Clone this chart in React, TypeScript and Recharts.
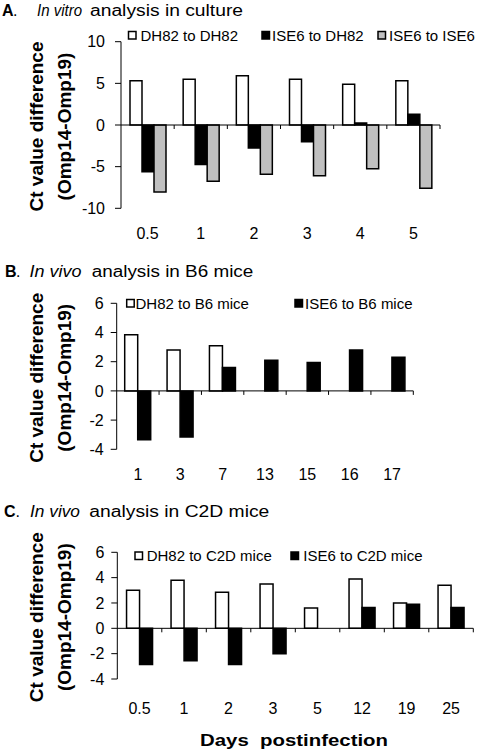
import React from 'react';
import { BarChart, Bar, XAxis, YAxis, ReferenceLine } from 'recharts';

// panel A - in vitro
const daysA = ['0.5', '1', '2', '3', '4', '5'];
const dh82ToDh82 = [5.3, 5.5, 5.9, 5.5, 4.9, 5.3];
const ise6ToDh82 = [-5.6, -4.75, -2.75, -2.0, 0.25, 1.3];
const ise6ToIse6 = [-8.05, -6.75, -5.9, -6.1, -5.25, -7.6];
const ticksA = [-10, -5, 0, 5, 10];

// panel B - B6 mice
const daysB = ['1', '3', '7', '13', '15', '16', '17'];
const dh82ToB6 = [3.85, 2.8, 3.1, null, null, null, null];
const ise6ToB6 = [-3.35, -3.15, 1.6, 2.1, 1.95, 2.8, 2.3];
const ticksB = [-4, -2, 0, 2, 4, 6];

// panel C - C2D mice
const daysC = ['0.5', '1', '2', '3', '5', '12', '19', '25'];
const dh82ToC2D = [3.0, 3.8, 2.85, 3.5, 1.6, 3.9, 2.0, 3.4];
const ise6ToC2D = [-2.85, -2.55, -2.85, -2.0, null, 1.65, 1.9, 1.65];
const ticksC = [-4, -2, 0, 2, 4, 6];

const FONT = '"Liberation Sans", Arial, Helvetica, sans-serif';
const WHITE = '#ffffff';
const BLACK = '#000000';
const GRAY = '#c0c0c0';

type Series = { name: string; values: (number | null)[]; fill: string };

const buildRows = (days: string[], series: Series[]) =>
    days.map((d, i) => {
        const row: Record<string, any> = { day: d };
        series.forEach((s, j) => {
            row['s' + j] = s.values[i];
        });
        return row;
    });

// zero line with small tick marks at the category boundaries
const zeroAxis = (n: number) => (props: any) => {
    const { x1, x2, y1 } = props;
    const step = (x2 - x1) / n;
    return (
        <g>
            <line x1={x1} x2={x2} y1={y1} y2={y1} stroke={BLACK} strokeWidth={1} />
            {Array.from({ length: n }, (_, i) => (
                <line
                    key={i}
                    x1={x1 + step * (i + 1)}
                    x2={x1 + step * (i + 1)}
                    y1={y1}
                    y2={y1 + 4}
                    stroke={BLACK}
                    strokeWidth={1}
                />
            ))}
        </g>
    );
};

const yLabel = (props: any) => {
    const vb = props.viewBox || {};
    const cy = (vb.y ?? 0) + (vb.height ?? 0) / 2 + 1.5;
    return (
        <g fontFamily={FONT} fontSize={19} fontWeight="bold" fill={BLACK}>
            <text transform={`translate(42.5,${cy}) rotate(-90)`} textAnchor="middle">
                Ct value difference
            </text>
            <text transform={`translate(70.5,${cy}) rotate(-90)`} textAnchor="middle">
                (Omp14-Omp19)
            </text>
        </g>
    );
};

interface PanelProps {
    top: number;
    height: number;
    margin: { top: number; right: number; bottom: number; left: number };
    yWidth: number;
    domain: [number, number];
    ticks: number[];
    days: string[];
    series: Series[];
    gap: number;
    yTickSize: number;
    yTickMargin: number;
    xTickMargin: number;
}

const Panel: React.FC<PanelProps> = (p) => {
    const rows = buildRows(p.days, p.series);
    return (
        <div style={{ position: 'absolute', left: 0, top: p.top }}>
            <BarChart
                width={480}
                height={p.height}
                data={rows}
                margin={p.margin}
                barCategoryGap={p.gap}
                barGap={0}
            >
                <XAxis
                    dataKey="day"
                    axisLine={false}
                    tickLine={false}
                    tickSize={0}
                    tickMargin={p.xTickMargin}
                    height={30}
                    interval={0}
                    tick={{ fontSize: 16, fill: BLACK, fontFamily: FONT }}
                />
                <YAxis
                    width={p.yWidth}
                    domain={p.domain}
                    ticks={p.ticks}
                    interval={0}
                    allowDataOverflow
                    axisLine={{ stroke: BLACK, strokeWidth: 1 }}
                    tickLine={{ stroke: BLACK, strokeWidth: 1 }}
                    tickSize={p.yTickSize}
                    tickMargin={p.yTickMargin}
                    tick={{ fontSize: 16, fill: BLACK, fontFamily: FONT }}
                    label={{ content: yLabel }}
                />
                {p.series.map((s, j) => (
                    <Bar
                        key={s.name}
                        dataKey={'s' + j}
                        name={s.name}
                        fill={s.fill}
                        stroke={BLACK}
                        strokeWidth={1.5}
                        isAnimationActive={false}
                    />
                ))}
                <ReferenceLine y={0} shape={zeroAxis(p.days.length)} />
            </BarChart>
        </div>
    );
};

const LegendItem = ({ x, tx, y, fill, label }: { x: number; tx: number; y: number; fill: string; label: string }) => (
    <g>
        <rect x={x} y={y - 4} width={7.5} height={7.5} fill={fill} stroke={BLACK} strokeWidth={1.5} />
        <text x={tx} y={y + 5.3} fontSize={15} fontFamily={FONT} fill={BLACK}>
            {label}
        </text>
    </g>
);

const seriesA: Series[] = [
    { name: 'DH82 to DH82', values: dh82ToDh82, fill: WHITE },
    { name: 'ISE6 to DH82', values: ise6ToDh82, fill: BLACK },
    { name: 'ISE6 to ISE6', values: ise6ToIse6, fill: GRAY },
];
const seriesB: Series[] = [
    { name: 'DH82 to B6 mice', values: dh82ToB6, fill: WHITE },
    { name: 'ISE6 to B6 mice', values: ise6ToB6, fill: BLACK },
];
const seriesC: Series[] = [
    { name: 'DH82 to C2D mice', values: dh82ToC2D, fill: WHITE },
    { name: 'ISE6 to C2D mice', values: ise6ToC2D, fill: BLACK },
];

export default function App() {
    return (
        <div style={{ position: 'absolute', left: 0, top: 0, width: 480, height: 754, background: '#fff', fontFamily: FONT }}>
            <Panel
                top={0}
                height={250}
                margin={{ top: 41.7, right: 40, bottom: 11.7, left: 0 }}
                yWidth={121}
                domain={[-10, 10]}
                ticks={ticksA}
                days={daysA}
                series={seriesA}
                gap={9}
                yTickSize={6}
                yTickMargin={10}
                xTickMargin={19}
            />
            <Panel
                top={250}
                height={250}
                margin={{ top: 53.3, right: 66.7, bottom: 20.7, left: 0 }}
                yWidth={116.7}
                domain={[-4, 6]}
                ticks={ticksB}
                days={daysB}
                series={seriesB}
                gap={8}
                yTickSize={6}
                yTickMargin={7}
                xTickMargin={19}
            />
            <Panel
                top={500}
                height={254}
                margin={{ top: 52.3, right: 6.7, bottom: 45, left: 0 }}
                yWidth={117.3}
                domain={[-4, 6]}
                ticks={ticksC}
                days={daysC}
                series={seriesC}
                gap={9.25}
                yTickSize={6}
                yTickMargin={7}
                xTickMargin={23.3}
            />
            <svg
                width={480}
                height={754}
                style={{ position: 'absolute', left: 0, top: 0, pointerEvents: 'none' }}
                fontFamily={FONT}
                fill={BLACK}
            >
                {/* panel titles */}
                <text x={2} y={15.5} fontSize={16} fontWeight="bold">A</text>
                <text x={13} y={15.5} fontSize={16}>.</text>
                <text x={37} y={15.5} fontSize={16} fontStyle="italic" textLength={45} lengthAdjust="spacingAndGlyphs">In vitro</text>
                <text x={90} y={15.5} fontSize={16} textLength={153} lengthAdjust="spacingAndGlyphs">analysis in culture</text>

                <text x={5} y={276.7} fontSize={16} fontWeight="bold">B</text>
                <text x={16} y={276.7} fontSize={16}>.</text>
                <text x={29.5} y={276.7} fontSize={16} fontStyle="italic" textLength={52} lengthAdjust="spacingAndGlyphs">In vivo</text>
                <text x={91.7} y={276.7} fontSize={16} textLength={161.6} lengthAdjust="spacingAndGlyphs">analysis in B6 mice</text>

                <text x={4} y={516.7} fontSize={16} fontWeight="bold">C</text>
                <text x={15.5} y={516.7} fontSize={16}>.</text>
                <text x={30} y={516.7} fontSize={16} fontStyle="italic" textLength={50} lengthAdjust="spacingAndGlyphs">In vivo</text>
                <text x={89.3} y={516.7} fontSize={16} textLength={180} lengthAdjust="spacingAndGlyphs">analysis in C2D mice</text>

                {/* legends */}
                <LegendItem x={128.5} tx={140.5} y={35.5} fill={WHITE} label={seriesA[0].name} />
                <LegendItem x={262} tx={272} y={35.5} fill={BLACK} label={seriesA[1].name} />
                <LegendItem x={378} tx={389} y={35.5} fill={GRAY} label={seriesA[2].name} />

                <LegendItem x={126.7} tx={135.5} y={303.5} fill={WHITE} label={seriesB[0].name} />
                <LegendItem x={295} tx={305} y={303.5} fill={BLACK} label={seriesB[1].name} />

                <LegendItem x={135} tx={146.7} y={556} fill={WHITE} label={seriesC[0].name} />
                <LegendItem x={291} tx={303.3} y={556} fill={BLACK} label={seriesC[1].name} />

                <text x={200} y={746} fontSize={17} fontWeight="bold" textLength={188} lengthAdjust="spacingAndGlyphs" xmlSpace="preserve">
                    Days  postinfection
                </text>
            </svg>
        </div>
    );
}
